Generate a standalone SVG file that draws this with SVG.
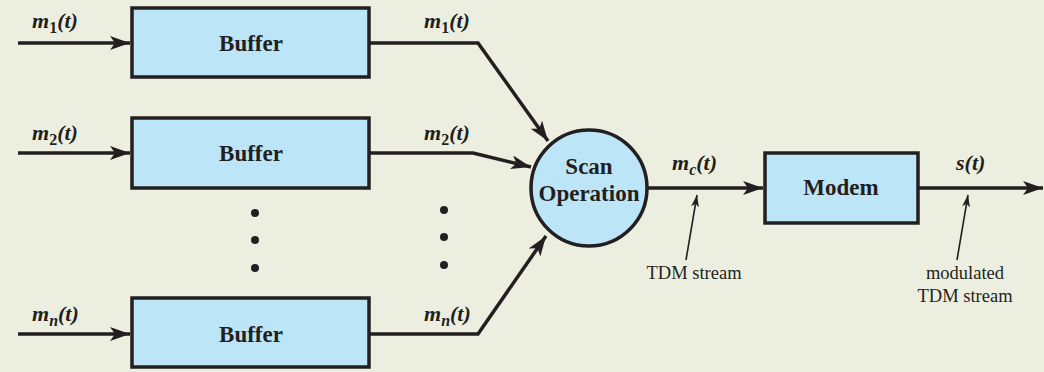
<svg xmlns="http://www.w3.org/2000/svg" width="1044" height="372" viewBox="0 0 1044 372">
<defs>
<style>
.box{fill:#bde5f8;stroke:#231f20;stroke-width:3.5}
.ln{fill:none;stroke:#231f20;stroke-width:3.5}
.thin{fill:none;stroke:#231f20;stroke-width:1.6}
.dot{fill:#231f20}
</style>
<marker id="ah" viewBox="0 0 20 14" refX="20" refY="7" markerWidth="20" markerHeight="14" markerUnits="userSpaceOnUse" orient="auto">
<path d="M0,0 L20,7 L0,14 L5,7 Z" fill="#231f20"/>
</marker>
<marker id="ahs" viewBox="0 0 12 8" refX="12" refY="4" markerWidth="12" markerHeight="8" markerUnits="userSpaceOnUse" orient="auto">
<path d="M0,0 L12,4 L0,8 L3,4 Z" fill="#231f20"/>
</marker>
</defs>
<rect width="1044" height="372" fill="#ecefdf"/>
<g id="connectors">
<line class="ln" x1="18" y1="43" x2="130" y2="43" marker-end="url(#ah)"/>
<line class="ln" x1="18" y1="153" x2="130" y2="153" marker-end="url(#ah)"/>
<line class="ln" x1="18" y1="334" x2="130" y2="334" marker-end="url(#ah)"/>
<polyline class="ln" points="369,43 478,43 548,141" marker-end="url(#ah)"/>
<polyline class="ln" points="369,153 473,153 531,167" marker-end="url(#ah)"/>
<polyline class="ln" points="369,334 478,334 546,236" marker-end="url(#ah)"/>
<line class="ln" x1="647" y1="188" x2="763" y2="188" marker-end="url(#ah)"/>
<line class="ln" x1="918" y1="188" x2="1043" y2="188" marker-end="url(#ah)"/>
<line class="thin" x1="686" y1="260" x2="697" y2="195" marker-end="url(#ahs)"/>
<line class="thin" x1="957" y1="260" x2="968" y2="195" marker-end="url(#ahs)"/>
</g>
<g id="buffer1"><rect class="box" x="132" y="8" width="237" height="69"/><text x="251" y="51" font-family="Liberation Serif" font-size="23" font-weight="bold" text-anchor="middle" fill="#231f20">Buffer</text></g>
<g id="buffer2"><rect class="box" x="132" y="118" width="237" height="70"/><text x="251" y="161" font-family="Liberation Serif" font-size="23" font-weight="bold" text-anchor="middle" fill="#231f20">Buffer</text></g>
<g id="buffern"><rect class="box" x="132" y="298" width="237" height="69"/><text x="251" y="342" font-family="Liberation Serif" font-size="23" font-weight="bold" text-anchor="middle" fill="#231f20">Buffer</text></g>
<g id="scan"><circle class="box" cx="589" cy="188" r="58"/><text x="589" y="174" font-family="Liberation Serif" font-size="23" font-weight="bold" text-anchor="middle" fill="#231f20">Scan</text><text x="589" y="201" font-family="Liberation Serif" font-size="23" font-weight="bold" text-anchor="middle" fill="#231f20">Operation</text></g>
<g id="modem"><rect class="box" x="765" y="153" width="153" height="70"/><text x="841" y="195" font-family="Liberation Serif" font-size="23" font-weight="bold" text-anchor="middle" fill="#231f20">Modem</text></g>
<g id="dots-left"><circle class="dot" cx="255" cy="213" r="4"/><circle class="dot" cx="255" cy="240" r="4"/><circle class="dot" cx="255" cy="268" r="4"/></g>
<g id="dots-right"><circle class="dot" cx="444" cy="210" r="4"/><circle class="dot" cx="444" cy="237" r="4"/><circle class="dot" cx="444" cy="265" r="4"/></g>
<g id="labels" fill="#231f20">
<text x="32" y="28" font-family="Liberation Serif" font-size="22" font-weight="bold" font-style="italic">m<tspan font-size="16" font-style="normal" dy="5">1</tspan><tspan dy="-5">(t)</tspan></text>
<text x="32" y="140" font-family="Liberation Serif" font-size="22" font-weight="bold" font-style="italic">m<tspan font-size="16" font-style="normal" dy="5">2</tspan><tspan dy="-5">(t)</tspan></text>
<text x="32" y="321" font-family="Liberation Serif" font-size="22" font-weight="bold" font-style="italic">m<tspan font-size="16" dy="5">n</tspan><tspan dy="-5">(t)</tspan></text>
<text x="424" y="28" font-family="Liberation Serif" font-size="22" font-weight="bold" font-style="italic">m<tspan font-size="16" font-style="normal" dy="5">1</tspan><tspan dy="-5">(t)</tspan></text>
<text x="424" y="140" font-family="Liberation Serif" font-size="22" font-weight="bold" font-style="italic">m<tspan font-size="16" font-style="normal" dy="5">2</tspan><tspan dy="-5">(t)</tspan></text>
<text x="424" y="321" font-family="Liberation Serif" font-size="22" font-weight="bold" font-style="italic">m<tspan font-size="16" dy="5">n</tspan><tspan dy="-5">(t)</tspan></text>
<text x="672" y="170" font-family="Liberation Serif" font-size="22" font-weight="bold" font-style="italic">m<tspan font-size="16" dy="5">c</tspan><tspan dy="-5">(t)</tspan></text>
<text x="956" y="170" font-family="Liberation Serif" font-size="22" font-weight="bold" font-style="italic">s(t)</text>
<text x="694" y="279" font-family="Liberation Serif" font-size="18.5" text-anchor="middle">TDM stream</text>
<text x="965" y="279" font-family="Liberation Serif" font-size="18.5" text-anchor="middle">modulated</text>
<text x="965" y="302" font-family="Liberation Serif" font-size="18.5" text-anchor="middle">TDM stream</text>
</g>
</svg>
